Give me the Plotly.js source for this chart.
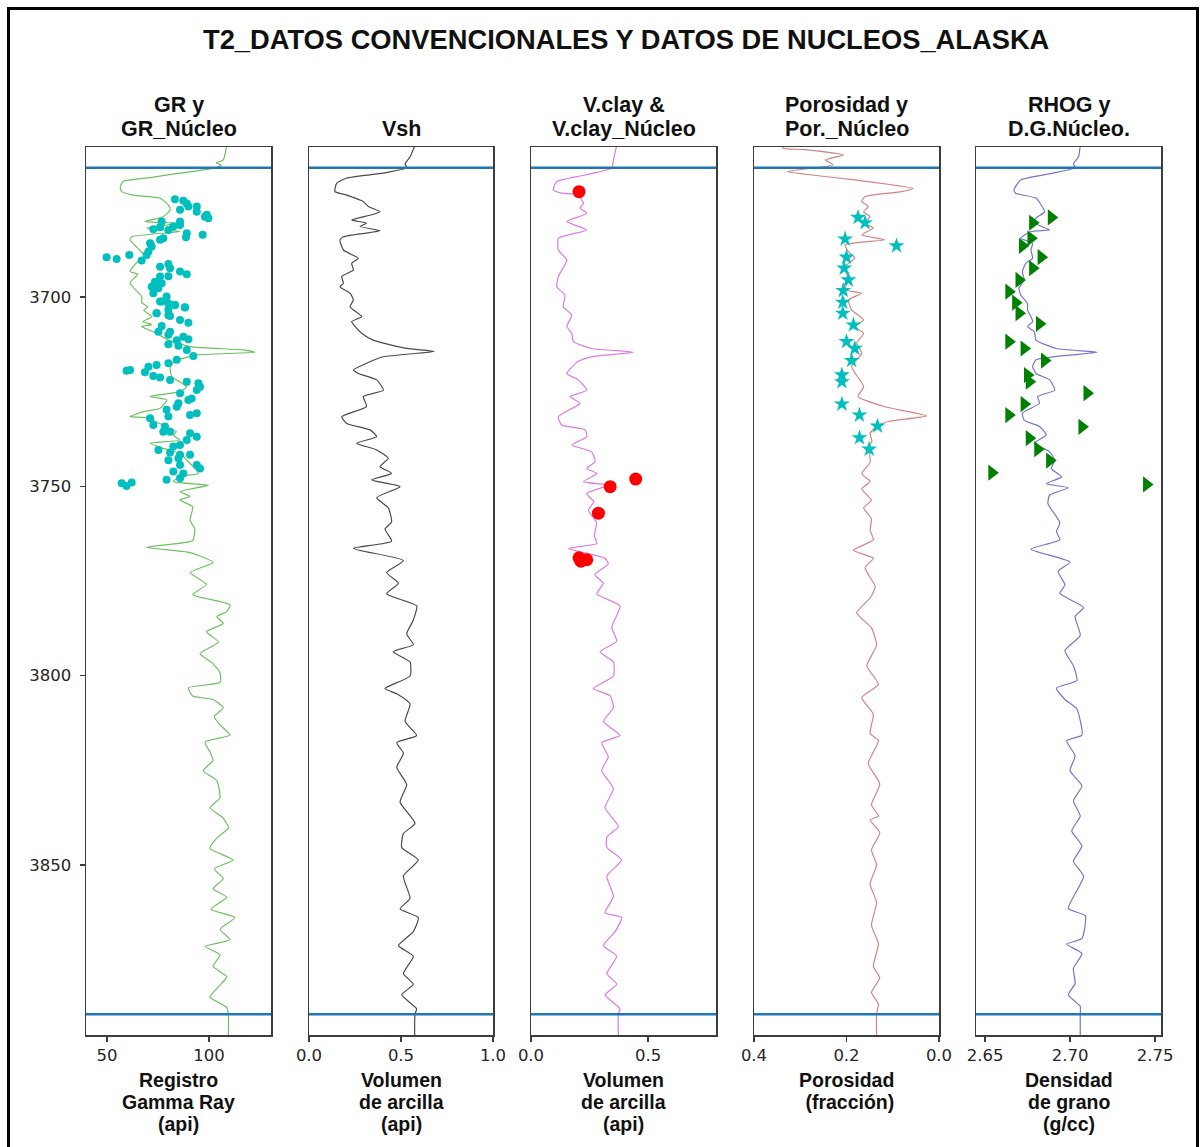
<!DOCTYPE html>
<html>
<head>
<meta charset="utf-8">
<script src="https://cdn.plot.ly/plotly-3.0.1.min.js"></script>
<style>
html,body{margin:0;padding:0;background:#fff;}
#chart{width:1203px;height:1147px;position:absolute;left:0;top:0;}
#frame{position:absolute;left:7px;top:7px;width:1186px;height:1200px;border:3px solid #000;pointer-events:none;}
</style>
</head>
<body>
<div id="chart"></div>
<div id="frame"></div>
<script>
// ---------------- DATA ----------------
const zoneTops = [3665.9, 3889.4];

const depthGR = [3660.0,3663.8,3664.6,3665.2,3665.9,3667.3,3668.4,3669.5,3671.0,3672.2,3673.1,3673.9,3675.7,3677.0,3678.8,3680.1,3680.5,3681.8,3682.7,3684.1,3684.9,3687.1,3689.7,3690.7,3693.3,3694.0,3696.3,3699.9,3701.5,3702.6,3703.5,3705.2,3706.5,3707.3,3707.8,3709.6,3711.4,3713.1,3714.0,3714.6,3715.3,3716.2,3716.6,3718.4,3721.0,3723.7,3725.0,3726.3,3727.2,3729.4,3730.3,3731.6,3731.9,3734.3,3735.6,3736.5,3737.8,3738.6,3740.0,3741.3,3743.0,3744.8,3746.6,3747.4,3748.8,3749.7,3751.4,3752.7,3753.6,3755.4,3759.0,3761.2,3764.3,3766.1,3767.5,3770.1,3772.8,3775.9,3778.6,3781.3,3783.1,3784.4,3786.2,3788.4,3791.1,3794.2,3796.5,3799.2,3801.8,3803.2,3805.4,3806.3,3808.5,3810.8,3813.0,3815.7,3817.5,3820.2,3822.4,3825.1,3827.7,3832.2,3834.9,3837.6,3840.2,3842.9,3845.6,3848.7,3851.0,3853.6,3856.3,3858.5,3861.7,3863.9,3867.0,3869.7,3871.5,3873.7,3876.8,3879.5,3882.2,3884.9,3887.6,3889.6,3895.5];
const grLog = [108.7,107.0,103.5,106.0,103.0,85.8,72.0,57.8,56.5,57.2,62.8,76.0,80.0,81.0,77.5,68.6,85.8,69.4,85.8,62.0,61.3,65.0,69.4,65.0,61.3,65.0,61.3,67.0,67.0,70.0,68.0,72.0,67.5,72.0,67.0,74.3,80.0,90.7,116.7,122.5,94.0,87.4,84.0,81.0,81.7,89.0,85.8,71.0,79.3,76.0,67.8,61.3,69.4,79.3,84.0,82.5,85.8,71.0,77.6,85.8,89.0,92.3,94.8,85.8,82.5,99.7,85.8,90.7,85.8,92.0,90.7,93.0,92.0,69.4,90.7,102.0,90.7,98.8,92.0,110.3,108.7,103.8,107.0,98.8,104.6,95.6,101.3,105.4,105.4,89.9,92.0,102.0,107.0,102.6,105.4,110.3,98.0,100.5,102.0,97.2,103.8,105.4,100.5,107.0,109.5,103.8,100.5,111.9,102.6,107.0,102.0,108.7,101.0,112.7,105.4,110.3,98.0,105.4,102.0,108.7,104.6,100.5,108.7,109.5,109.5];

const coreDepthGR = [3674.2,3674.6,3675.3,3676.1,3676.1,3677.5,3677.0,3678.3,3679.2,3678.8,3680.1,3680.1,3682.1,3681.6,3682.3,3681.4,3681.0,3683.2,3684.2,3683.6,3685.8,3686.7,3688.0,3688.9,3684.9,3684.5,3689.5,3690.0,3688.9,3690.4,3692.0,3691.3,3692.4,3693.3,3694.0,3694.5,3694.6,3696.0,3696.4,3697.3,3697.7,3699.0,3699.9,3701.2,3701.7,3702.1,3702.8,3704.3,3704.8,
3701.2,3702.1,3702.7,3704.3,3703.4,3705.0,3706.1,3706.8,3707.7,3709.2,3709.2,3710.0,3710.5,3711.4,3711.2,3712.5,3712.9,3714.0,3715.6,3716.6,3717.5,3718.4,3718.0,3719.3,3719.5,3719.9,3720.9,3721.3,3721.9,3722.4,3722.8,3723.7,3724.6,3725.4,3726.8,3727.2,3728.1,3729.0,3729.8,3731.6,3731.2,3730.7,3732.0,3733.8,3734.2,3735.6,3735.6,3736.0,3736.9,3737.8,3739.1,3739.5,3740.4,3741.1,3741.7,3741.7,3743.1,3742.6,3744.4,3744.4,3745.3,3746.1,3746.6,3747.9,3748.3,3749.2,3749.0,3749.9];
const coreGR = [83.3,87.4,89.1,89.9,94.0,94.0,85.8,98.9,99.7,98.0,76.8,85.8,72.7,76.0,80.1,82.5,85.8,89.1,88.7,96.9,71.1,71.9,70.3,69.4,76.0,77.6,49.8,54.7,60.9,67.0,76.0,80.1,80.9,85.8,89.1,80.1,76.0,73.5,76.8,71.9,75.2,72.7,79.2,76.8,80.1,83.3,88.2,74.3,80.1,
76.0,83.3,88.2,74.3,80.1,80.9,85.8,89.9,76.8,75.2,80.9,80.1,87.4,84.2,89.9,80.1,85.0,89.1,92.3,84.2,80.1,70.3,74.3,61.3,59.6,68.6,72.7,76.0,80.9,89.1,94.8,95.6,94.0,85.8,91.5,89.9,85.0,84.2,79.2,80.1,90.7,94.0,71.1,72.7,78.4,77.6,80.9,90.7,94.0,89.1,85.8,82.5,75.2,80.9,85.8,90.7,80.1,85.0,85.8,94.0,95.6,82.5,87.4,85.8,79.2,57.2,62.1,59.6];

const depthVsh = [3660.0,3663.0,3664.8,3665.9,3667.3,3668.6,3670.0,3672.2,3673.1,3674.8,3676.1,3677.5,3678.3,3679.7,3680.5,3681.4,3682.5,3684.1,3684.9,3687.6,3689.8,3691.1,3692.9,3694.6,3696.4,3697.3,3699.0,3700.8,3702.6,3705.2,3706.5,3707.8,3709.6,3711.4,3713.6,3714.4,3715.8,3717.5,3719.3,3720.2,3721.9,3724.6,3726.3,3728.9,3731.6,3733.4,3735.1,3736.9,3738.6,3740.4,3742.6,3744.8,3746.6,3748.3,3750.1,3753.0,3755.7,3759.4,3761.3,3764.5,3766.4,3769.6,3772.8,3775.6,3778.4,3781.6,3785.3,3789.0,3791.8,3793.7,3796.4,3800.1,3803.4,3804.8,3807.5,3812.1,3815.8,3817.7,3820.5,3824.2,3828.8,3833.4,3839.0,3841.7,3845.4,3848.7,3852.9,3858.8,3861.6,3863.9,3867.6,3871.3,3874.1,3878.7,3881.5,3884.3,3888.0,3889.4,3895.5];
const vshLog = [0.576,0.549,0.522,0.531,0.404,0.205,0.150,0.141,0.205,0.295,0.322,0.386,0.341,0.232,0.313,0.277,0.386,0.187,0.168,0.187,0.268,0.232,0.241,0.178,0.187,0.168,0.223,0.241,0.223,0.286,0.232,0.250,0.286,0.349,0.531,0.680,0.404,0.313,0.241,0.268,0.368,0.404,0.295,0.313,0.178,0.205,0.332,0.368,0.259,0.368,0.431,0.386,0.449,0.341,0.495,0.368,0.431,0.449,0.413,0.449,0.241,0.513,0.422,0.486,0.422,0.585,0.567,0.531,0.567,0.458,0.549,0.549,0.413,0.477,0.549,0.522,0.585,0.477,0.513,0.477,0.531,0.495,0.576,0.513,0.504,0.594,0.513,0.549,0.495,0.594,0.567,0.486,0.567,0.513,0.567,0.504,0.585,0.576,0.574];

const depthVcl = [3660.0,3663.8,3665.9,3667.8,3669.5,3671.7,3672.6,3673.0,3675.3,3676.5,3677.9,3680.1,3682.3,3684.5,3687.6,3690.2,3691.5,3694.6,3697.3,3699.5,3702.6,3704.8,3707.8,3709.6,3711.8,3713.6,3714.6,3715.8,3717.0,3720.2,3721.9,3724.6,3726.3,3728.1,3731.6,3733.8,3735.1,3736.9,3739.1,3740.9,3743.5,3745.3,3746.6,3748.8,3749.7,3751.9,3754.1,3756.3,3759.6,3763.0,3765.1,3766.4,3769.0,3770.5,3773.3,3775.6,3778.4,3781.6,3787.2,3790.9,3793.7,3796.4,3800.1,3803.4,3805.3,3808.4,3812.1,3815.8,3817.7,3821.4,3825.1,3829.8,3834.9,3839.9,3842.6,3845.4,3848.7,3852.9,3858.3,3862.6,3863.9,3867.6,3871.3,3874.1,3878.7,3881.5,3884.3,3888.0,3889.4,3895.5];
const vclLog = [0.366,0.352,0.345,0.231,0.110,0.095,0.131,0.199,0.224,0.209,0.238,0.153,0.238,0.117,0.117,0.153,0.145,0.117,0.110,0.145,0.138,0.174,0.153,0.174,0.181,0.259,0.437,0.259,0.202,0.153,0.202,0.238,0.167,0.209,0.117,0.131,0.231,0.238,0.174,0.259,0.274,0.238,0.281,0.224,0.330,0.238,0.268,0.245,0.280,0.270,0.281,0.160,0.316,0.330,0.272,0.309,0.281,0.380,0.345,0.366,0.295,0.352,0.352,0.266,0.338,0.352,0.309,0.380,0.302,0.330,0.302,0.352,0.316,0.373,0.324,0.324,0.387,0.324,0.352,0.316,0.387,0.359,0.309,0.366,0.324,0.366,0.316,0.380,0.373,0.373];

const coreDepthVcl = [3672.2,3748.1,3750.1,3757.1,3768.9,3769.4,3769.8];
const coreVcl = [0.205,0.447,0.338,0.288,0.205,0.238,0.213];

const depthPor = [3660.0,3660.7,3661.1,3662.5,3663.8,3665.1,3666.9,3667.8,3669.1,3671.3,3672.2,3673.5,3674.8,3676.1,3677.5,3678.8,3680.5,3681.8,3683.6,3684.9,3686.2,3688.0,3689.8,3692.0,3695.5,3698.1,3699.0,3700.8,3703.4,3706.1,3707.8,3709.6,3712.2,3714.9,3718.4,3723.7,3726.3,3729.0,3731.4,3732.9,3734.2,3736.0,3738.2,3739.9,3741.5,3743.7,3746.7,3748.7,3750.7,3753.7,3755.7,3758.6,3761.6,3764.1,3766.9,3769.0,3771.5,3776.5,3779.5,3783.4,3787.4,3791.9,3797.4,3802.3,3805.8,3810.2,3815.2,3817.2,3823.2,3828.6,3834.1,3837.1,3838.1,3841.5,3846.0,3850.0,3855.0,3859.9,3865.9,3870.8,3876.8,3879.8,3883.7,3886.7,3889.4,3895.5];
const porLog = [0.340,0.337,0.290,0.207,0.246,0.229,0.329,0.275,0.182,0.056,0.081,0.160,0.167,0.153,0.163,0.149,0.163,0.142,0.167,0.117,0.203,0.196,0.182,0.203,0.196,0.203,0.167,0.196,0.189,0.163,0.182,0.163,0.178,0.167,0.189,0.163,0.175,0.117,0.027,0.110,0.135,0.149,0.145,0.156,0.150,0.149,0.167,0.149,0.167,0.146,0.163,0.146,0.149,0.142,0.185,0.142,0.160,0.138,0.149,0.178,0.146,0.135,0.156,0.131,0.167,0.142,0.149,0.131,0.153,0.128,0.146,0.131,0.149,0.128,0.146,0.135,0.149,0.135,0.146,0.131,0.142,0.128,0.146,0.131,0.135,0.135];

const coreDepthPor = [3679.0,3680.4,3684.7,3686.5,3689.5,3692.4,3695.5,3698.3,3701.4,3704.3,3707.4,3711.8,3713.6,3716.8,3720.6,3722.4,3728.3,3731.2,3734.1,3737.2,3740.2];
const corePor = [0.175,0.160,0.203,0.092,0.200,0.205,0.196,0.207,0.208,0.208,0.185,0.200,0.182,0.189,0.210,0.210,0.210,0.172,0.133,0.172,0.151];

const depthRhog = [3660.0,3663.0,3664.8,3665.9,3667.3,3669.1,3671.7,3672.6,3673.9,3675.7,3677.5,3679.2,3680.5,3682.3,3682.7,3684.5,3685.8,3687.6,3689.8,3691.1,3693.3,3695.5,3697.7,3699.5,3701.7,3703.4,3705.2,3706.5,3707.8,3709.2,3711.4,3713.6,3714.6,3715.8,3716.6,3718.4,3720.2,3721.9,3724.6,3726.3,3728.1,3730.7,3732.5,3734.2,3736.4,3738.6,3740.9,3743.1,3745.3,3747.5,3749.3,3750.4,3752.3,3754.6,3759.6,3762.0,3764.1,3766.6,3770.0,3772.5,3776.0,3778.3,3782.0,3784.4,3789.4,3793.4,3797.4,3801.3,3803.3,3806.3,3808.8,3815.7,3817.2,3821.2,3825.1,3829.1,3833.1,3837.1,3841.0,3845.0,3849.0,3853.0,3861.5,3863.4,3869.4,3870.9,3873.4,3877.3,3881.3,3884.3,3887.3,3889.4,3895.5];
const rhogLog = [2.706,2.705,2.702,2.703,2.690,2.671,2.667,2.668,2.680,2.683,2.685,2.680,2.679,2.688,2.677,2.671,2.678,2.677,2.678,2.674,2.672,2.673,2.670,2.671,2.675,2.675,2.677,2.678,2.675,2.679,2.680,2.692,2.716,2.690,2.680,2.678,2.680,2.688,2.691,2.681,2.682,2.672,2.673,2.682,2.686,2.679,2.688,2.691,2.689,2.695,2.686,2.699,2.688,2.687,2.694,2.692,2.694,2.677,2.700,2.693,2.697,2.694,2.708,2.703,2.706,2.697,2.702,2.704,2.692,2.697,2.704,2.707,2.698,2.703,2.700,2.707,2.702,2.706,2.701,2.707,2.702,2.708,2.699,2.709,2.707,2.698,2.707,2.702,2.703,2.699,2.706,2.706,2.706];

const coreDepthRhog = [3679.0,3680.4,3684.5,3686.5,3689.5,3692.4,3695.5,3698.6,3701.5,3704.3,3707.1,3711.8,3713.6,3716.8,3720.6,3722.4,3725.4,3728.3,3731.2,3734.3,3737.3,3740.2,3743.2,3746.4,3749.5];
const coreRhog = [2.689,2.678,2.677,2.672,2.683,2.678,2.670,2.664,2.668,2.670,2.682,2.664,2.673,2.685,2.675,2.676,2.710,2.673,2.664,2.707,2.676,2.681,2.688,2.654,2.745];

const trackTitles = [["GR y","GR_Núcleo"],["Vsh"],["V.clay &","V.clay_Núcleo"],["Porosidad y","Por._Núcleo"],["RHOG y","D.G.Núcleo."]];
const axisTitles = [["Registro","Gamma Ray","(api)"],["Volumen","de arcilla","(api)"],["Volumen","de arcilla","(api)"],["Porosidad"," (fracción)"],["Densidad","de grano","(g/cc)"]];
const xTicks = [[50,100],[0,0.5,1.0],[0,0.5],[0.4,0.2,0.0],[2.65,2.70,2.75]];
const xTickText = [["50","100"],["0.0","0.5","1.0"],["0.0","0.5"],["0.4","0.2","0.0"],["2.65","2.70","2.75"]];
const xRanges = [[39.7,130.4],[0,1],[0,0.79],[0.4,0],[2.6447,2.7535]];
const depthTicks = [3700,3750,3800,3850];
const mainTitle = "T2_DATOS CONVENCIONALES Y DATOS DE NUCLEOS_ALASKA";

// ---------------- LAYOUT ----------------
const W = 1203, H = 1147;
const fx = p => p / W;
const fy = p => 1 - p / H;
const trackPx = [[86,271],[309,493],[531,716],[754,939],[976,1161]];
const yRange = [3894.9, 3660.4];
const boldFont = "Liberation Sans, Arial, Helvetica, sans-serif";
const tickFont = {family: "DejaVu Sans, sans-serif", size: 16.5, color: "#262626"};
const spine = "#3d3d3d";

const line = (x, y, n, color) => ({type:"scatter", mode:"lines", x, y, xaxis:"x"+(n>1?n:""), yaxis:"y"+(n>1?n:""),
  line:{color, width:1.2, shape:"spline", smoothing:0.5}, hoverinfo:"skip"});
const pts = (x, y, n, marker) => ({type:"scatter", mode:"markers", x, y, xaxis:"x"+(n>1?n:""), yaxis:"y"+(n>1?n:""), marker, hoverinfo:"skip"});

const data = [
  line(grLog, depthGR, 1, "#6fbf63"),
  pts(coreGR, coreDepthGR, 1, {color:"#00bfbf", size:8, symbol:"circle"}),
  line(vshLog, depthVsh, 2, "#4a4a4a"),
  line(vclLog, depthVcl, 3, "#dc7ae3"),
  pts(coreVcl, coreDepthVcl, 3, {color:"#ff0000", size:13, symbol:"circle"}),
  line(porLog, depthPor, 4, "#cf8585"),
  pts(corePor, coreDepthPor, 4, {color:"#00bfbf", size:12, symbol:"star"}),
  line(rhogLog, depthRhog, 5, "#7575c9"),
  pts(coreRhog, coreDepthRhog, 5, {color:"#008000", size:14, symbol:"triangle-right"})
];

const layout = {
  width: W, height: H,
  margin: {l:0, r:0, t:0, b:0},
  paper_bgcolor: "#ffffff", plot_bgcolor: "#ffffff",
  showlegend: false,
  shapes: [], annotations: []
};

for (let i = 0; i < 5; i++) {
  const n = i + 1, sfx = n > 1 ? n : "";
  layout["xaxis"+sfx] = {
    domain: [fx(trackPx[i][0]), fx(trackPx[i][1])], anchor: "y"+sfx,
    range: xRanges[i], tickmode: "array", tickvals: xTicks[i], ticktext: xTickText[i],
    ticks: "outside", ticklen: 5, tickwidth: 1.2, tickcolor: spine,
    showline: true, linecolor: spine, linewidth: 1.5, mirror: true,
    showgrid: false, zeroline: false, tickfont: tickFont, fixedrange: true
  };
  layout["yaxis"+sfx] = {
    domain: [fy(1035), fy(147)], anchor: "x"+sfx, range: yRange,
    showline: true, linecolor: spine, linewidth: 1.5, mirror: true,
    showgrid: false, zeroline: false, fixedrange: true,
    tickmode: "array", tickvals: depthTicks,
    ticks: i === 0 ? "outside" : "", ticklen: 5, tickwidth: 1.2, tickcolor: spine,
    showticklabels: i === 0, tickfont: tickFont, ticklabelstandoff: 5
  };
  zoneTops.forEach(d => layout.shapes.push({type:"line", xref:"x"+sfx+" domain", yref:"y"+sfx,
    x0:0, x1:1, y0:d, y1:d, line:{color:"#1f77b4", width:2.5}, layer:"above"}));

  const cx = (trackPx[i][0] + trackPx[i][1]) / 2;
  const tl = trackTitles[i];
  const tys = tl.length === 2 ? [105, 129] : [129];
  tl.forEach((t, k) => layout.annotations.push({text:"<b>"+t+"</b>", xref:"paper", yref:"paper", x:fx(cx), y:fy(tys[k]),
    xanchor:"center", yanchor:"middle", showarrow:false, font:{family:boldFont, size:21.5, color:"#111"}}));
  axisTitles[i].forEach((t, k) => layout.annotations.push({text:"<b>"+t.replace(/ /g,"&nbsp;")+"</b>", xref:"paper", yref:"paper", x:fx(cx), y:fy(1080 + 22*k),
    xanchor:"center", yanchor:"middle", showarrow:false, font:{family:boldFont, size:19.5, color:"#111"}}));
}
layout.annotations.push({text:"<b>"+mainTitle+"</b>", xref:"paper", yref:"paper", x:fx(626), y:fy(40),
  xanchor:"center", yanchor:"middle", showarrow:false, font:{family:boldFont, size:27.3, color:"#111"}});

Plotly.newPlot("chart", data, layout, {staticPlot:true, displayModeBar:false});
</script>
</body>
</html>
